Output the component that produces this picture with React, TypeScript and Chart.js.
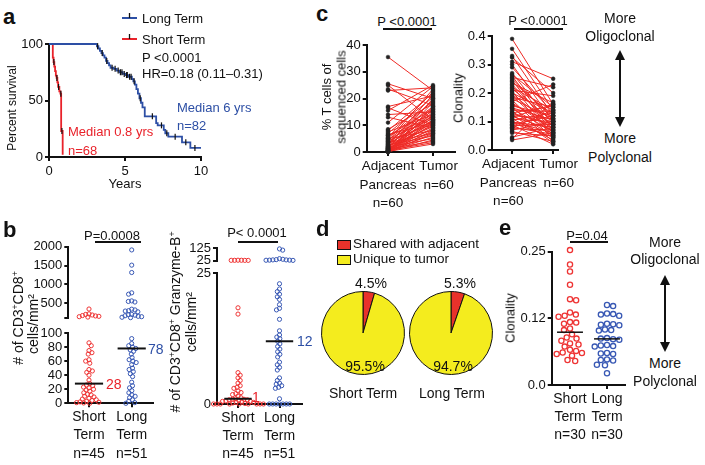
import React, { useEffect, useRef } from "react";
import { Chart, registerables } from "chart.js";

Chart.register(...registerables);
const FONT = "'Liberation Sans', Arial, Helvetica, sans-serif";
Chart.defaults.font.family = FONT;
Chart.defaults.font.size = 13;
Chart.defaults.color = "#111";

const INK = "#111";
const RED = "#e9222a";
const BLUE = "#2d4fa5";
const DOT_RED = "#ee3434";
const DOT_BLUE = "#3858b4";
const PIE_RED = "#e8322b";
const PIE_YELLOW = "#f4ec1e";

// ---------------- panel a : survival ----------------
const yearTicks = [0, 5, 10];
const survivalTicks = [0, 50, 100];
const longTermYears = [0, 3.15, 3.25, 3.35, 3.45, 3.55, 3.65, 3.75, 3.85, 3.95, 4.05, 4.25, 4.45, 4.65, 4.85, 5.05, 5.25, 5.45, 5.55, 5.65, 5.75, 5.85, 5.95, 6.05, 6.15, 6.3, 7.05, 7.15, 7.55, 7.65, 7.85, 8.75, 9.3, 10];
const longTermSurvival = [100, 98, 96, 94, 92, 90, 88, 85, 83, 81, 79, 78, 76.5, 75, 73.5, 72.5, 71, 69, 67, 64, 60, 56, 52, 48, 44, 36, 30, 28, 24, 21, 18, 13, 8, 8];
const longCensorYears = [3.2, 3.5, 3.8, 4.15, 4.35, 4.55, 4.7, 4.8, 4.95, 5.1, 5.15, 5.3, 5.4, 5.6, 6.0, 6.8, 7.4, 7.75, 8.3, 9.0, 9.6];
const longCensorSurvival = [98, 92, 85, 79, 78, 76.5, 75, 75, 73.5, 72.5, 72.5, 71, 71, 67, 52, 36, 28, 21, 18, 13, 8];
const shortTermYears = [0, 0.25, 0.3, 0.35, 0.4, 0.45, 0.5, 0.55, 0.6, 0.68, 0.75, 0.8, 0.9];
const shortTermSurvival = [100, 88, 84, 80, 76, 72, 70, 66, 62, 58, 56, 23, 2];
const shortCensorYears = [0.32, 0.52, 0.63, 0.78, 0.85];
const shortCensorSurvival = [84, 70, 62, 56, 23];

// ---------------- panel c : paired ----------------
const pairLabels = [["Adjacent", "Pancreas", "n=60"], ["Tumor", "n=60"]];
const tcellTicks = [0, 10, 20, 30, 40];
const clonTicks = [0, 0.1, 0.2, 0.3, 0.4];
const clonTickLabels = ["0.0", "0.1", "0.2", "0.3", "0.4"];
const adjacentTcell = [35.5, 25.5, 25, 23.5, 23, 17, 16.5, 15.5, 14, 13, 11, 8.5, 8, 7.5, 7, 6.5, 6.2, 6, 5.5, 5.2, 5, 4.8, 4.5, 4.2, 4, 3.8, 3.5, 3.3, 3, 2.8, 2.6, 2.4, 2.2, 2, 1.9, 1.8, 1.6, 1.5, 1.4, 1.3, 1.2, 1.1, 1, 0.9, 0.8, 0.7, 0.6, 0.5, 0.5, 0.4, 0.4, 0.3, 0.3, 0.2, 0.2, 0.2, 0.1, 0.1, 0.1, 0.05];
const tumorTcell = [23, 20, 12, 17.5, 24, 21, 10, 25, 15, 9, 24.5, 18, 22, 14, 20.5, 11, 13, 16, 22.5, 19, 8, 12.5, 17, 10.5, 23.5, 15.5, 7, 11.5, 19.5, 13.5, 6, 21.5, 9.5, 16.5, 12, 5, 14.5, 18.5, 8.5, 10, 20, 4, 11, 15, 7.5, 13, 3.5, 9, 17, 6.5, 12, 5.5, 14, 10.5, 3, 8, 16, 11.5, 4.5, 7];
const adjacentClonality = [0.39, 0.355, 0.33, 0.325, 0.31, 0.3, 0.29, 0.27, 0.265, 0.26, 0.255, 0.25, 0.245, 0.24, 0.235, 0.23, 0.225, 0.22, 0.215, 0.21, 0.205, 0.2, 0.195, 0.19, 0.185, 0.18, 0.175, 0.17, 0.165, 0.16, 0.155, 0.15, 0.148, 0.145, 0.14, 0.135, 0.13, 0.128, 0.125, 0.12, 0.118, 0.115, 0.11, 0.108, 0.105, 0.1, 0.098, 0.095, 0.09, 0.088, 0.085, 0.08, 0.078, 0.075, 0.07, 0.065, 0.06, 0.045, 0.04, 0.035];
const tumorClonality = [0.16, 0.14, 0.12, 0.2, 0.25, 0.1, 0.13, 0.09, 0.15, 0.07, 0.22, 0.11, 0.06, 0.12, 0.165, 0.08, 0.05, 0.14, 0.1, 0.19, 0.045, 0.13, 0.085, 0.06, 0.15, 0.11, 0.04, 0.23, 0.075, 0.095, 0.12, 0.03, 0.105, 0.065, 0.135, 0.05, 0.155, 0.09, 0.025, 0.11, 0.07, 0.16, 0.035, 0.1, 0.13, 0.06, 0.08, 0.045, 0.12, 0.02, 0.09, 0.055, 0.14, 0.07, 0.1, 0.03, 0.05, 0.08, 0.17, 0.06];

// ---------------- panel b : CD8 densities ----------------
const groupLabels45 = [["Short", "Term", "n=45"], ["Long", "Term", "n=51"]];
const cd8TopTicks = [100, 500, 1000, 1500, 2000];
const cd8TopLabels = ["", "500", "1000", "1500", "2000"];
const cd8LowTicks = [0, 20, 40, 60, 80, 100];
const cd8ShortHigh = [344, 215, 200, 185, 170, 160, 150, 140, 130];
const cd8ShortLow = [86, 82, 75, 72, 70, 62, 60, 57, 48, 46, 44, 40, 33, 28, 26, 25, 23, 22, 20, 19, 17, 15, 13, 12, 10, 9, 7, 6, 5, 4, 3, 2, 1.5, 1, 0.5, 0];
const cd8LongHigh = [1914, 1510, 1314, 774, 738, 560, 545, 530, 340, 320, 300, 290, 270, 200, 190, 180, 165, 150, 140, 125, 115];
const cd8LongLow = [92, 85, 82, 80, 78, 76, 74, 70, 65, 62, 60, 58, 55, 50, 48, 45, 42, 38, 30, 25, 22, 18, 15, 12, 10, 8, 5, 3, 1, 0];
const cd8Medians = [28, 78];

const gzbTopTicks = [25, 125];
const gzbLowTicks = [0, 25];
const gzbShortHigh = [26, 26.5, 27, 26, 27.5, 26.5];
const gzbShortLow = [18.4, 17.2, 6, 5.5, 5, 4.5, 4, 3.5, 3.2, 3, 2.5, 2.2, 2, 1.8, 1.5, 1.2, 1, 0.9, 0.9, 0.8, 0.8, 0.7, 0.6, 0.5, 0.5, 0.4, 0.3, 0.3, 0.2, 0.1, 0, 0, 0, 0, 0, 0, 0, 0, 0];
const gzbLongHigh = [120, 110, 40, 35, 32, 30, 30, 28, 28, 27, 26];
const gzbLongLow = [23, 22, 21.5, 21, 20.5, 20, 19, 18.3, 18, 16.2, 14, 13.2, 12.8, 12.5, 12, 11.5, 11, 10.5, 10, 9.5, 9, 8, 7.5, 7, 6.5, 5, 4.5, 4, 3.8, 3.5, 3.2, 3, 1, 0, 0, 0, 0, 0, 0, 0];
const gzbMedians = [1, 12];

// ---------------- panel d : pies ----------------
const pieShort = [4.5, 95.5];
const pieLong = [5.3, 94.7];

// ---------------- panel e : clonality ----------------
const groupLabels30 = [["Short", "Term", "n=30"], ["Long", "Term", "n=30"]];
const eTicks = [0, 0.125, 0.25];
const eTickLabels = ["0.0", "0.12", "0.25"];
const eShort = [0.253, 0.226, 0.213, 0.188, 0.161, 0.159, 0.136, 0.132, 0.13, 0.128, 0.118, 0.117, 0.115, 0.106, 0.103, 0.095, 0.089, 0.087, 0.083, 0.078, 0.076, 0.072, 0.066, 0.064, 0.061, 0.06, 0.058, 0.055, 0.047, 0.045];
const eLong = [0.15, 0.148, 0.134, 0.133, 0.132, 0.13, 0.115, 0.114, 0.113, 0.112, 0.104, 0.103, 0.102, 0.088, 0.087, 0.086, 0.085, 0.075, 0.074, 0.073, 0.072, 0.06, 0.059, 0.058, 0.048, 0.047, 0.046, 0.038, 0.037, 0.022];
const eMedians = [0.099, 0.0865];

// ---------------- layout helpers ----------------
type Box = { L: number; T: number; W: number; H: number };
type Area = { l: number; t: number; r: number; b: number };

function frame(box: Box, area: Area, xVisible = true) {
  return {
    padding: {
      left: 0,
      top: area.t - box.T,
      right: box.L + box.W - area.r,
      bottom: xVisible ? 0 : box.T + box.H - area.b,
    },
    yFit: (s: any) => { s.width = area.l - box.L; },
    xFit: (s: any) => { s.height = box.T + box.H - area.b; },
  };
}
function span(area: Area, p0: number, p1: number) {
  const u = p1 - p0;
  return { min: (area.l - p0) / u, max: (area.r - p0) / u };
}
// nudge multi-line category labels sideways with spaces (lead>0 shifts right, trail>0 shifts left)
function nudge(lines: string[], lead: number, trail: number) {
  return lines.map((s) => " ".repeat(lead) + s + " ".repeat(trail));
}

const GRID = { display: true, drawOnChartArea: false, drawTicks: true, tickLength: 4, color: INK, lineWidth: 2 };
const BORDER = { display: true, color: INK, width: 2 };

function yAxis(min: number, max: number, ticks: number[], labels: string[], f: any) {
  return {
    type: "linear", position: "left", min, max,
    afterBuildTicks: (s: any) => { s.ticks = ticks.map((v) => ({ value: v })); },
    afterFit: f.yFit,
    grid: GRID, border: BORDER,
    ticks: { autoSkip: false, padding: 2, color: INK, font: { size: 13 }, callback: (_v: any, i: number) => labels[i] },
  };
}
function xAxis(min: number, max: number, ticks: number[], labels: any[], f: any, size = 13, lh = 1.2, pad = 2) {
  return {
    type: "linear", position: "bottom", min, max,
    afterBuildTicks: (s: any) => { s.ticks = ticks.map((v) => ({ value: v })); },
    afterFit: f.xFit,
    grid: GRID, border: BORDER,
    ticks: { autoSkip: false, maxRotation: 0, padding: pad, color: INK, font: { size, lineHeight: lh }, callback: (_v: any, i: number) => labels[i] },
  };
}
function hiddenX(min: number, max: number) {
  return { type: "linear", display: false, min, max };
}
function baseOptions(f: any, scales: any) {
  return {
    responsive: false, animation: false, events: [],
    layout: { padding: f.padding, autoPadding: false },
    plugins: { legend: { display: false }, tooltip: { enabled: false } },
    scales,
  };
}
const pts = (xs: number[], ys: number[]) => xs.map((x, i) => ({ x, y: ys[i] }));
function pairData(a: number[], t: number[]) {
  const out: any[] = [];
  a.forEach((v, i) => { out.push({ x: 0, y: v }, { x: 1, y: t[i] }, { x: 0.5, y: null }); });
  return out;
}
function dots(values: number[], center: number, color: string, r: number, bw: number) {
  return {
    data: values.map((v) => ({ x: center, y: v })),
    pointStyle: "circle", pointRadius: r, pointBorderWidth: bw,
    pointBorderColor: color, pointBackgroundColor: "rgba(255,255,255,0)", clip: false,
  };
}
function medianLine(center: number, value: number, half: number, w: number) {
  return {
    data: [{ x: center - half, y: value }, { x: center + half, y: value }],
    showLine: true, borderColor: INK, borderWidth: w, pointRadius: 0, clip: false,
  };
}

type Group = { ds: number; center: number; values: number[]; diam: number };
function swarm(chart: any, groups: Group[]) {
  const xs = chart.scales.x, ys = chart.scales.y;
  const ppu = xs.getPixelForValue(1) - xs.getPixelForValue(0);
  groups.forEach((g) => {
    const order = g.values.map((_v, i) => i).sort((a, b) => g.values[b] - g.values[a]);
    const placed: { px: number; py: number }[] = [];
    const xOut = g.values.map(() => g.center);
    let flip = 1;
    order.forEach((i) => {
      const py = ys.getPixelForValue(g.values[i]);
      const bans: number[][] = [];
      placed.forEach((p) => {
        const dy = Math.abs(p.py - py);
        if (dy < g.diam) {
          const dx = Math.sqrt(g.diam * g.diam - dy * dy);
          bans.push([p.px - dx, p.px + dx]);
        }
      });
      const cands = [0];
      bans.forEach(([a, b]) => cands.push(a, b));
      cands.sort((a, b) => Math.abs(a) - Math.abs(b) || (a - b) * flip);
      let px = 0;
      for (const c of cands) {
        if (bans.every(([a, b]) => c <= a + 1e-6 || c >= b - 1e-6)) { px = c; break; }
      }
      flip = -flip;
      placed.push({ px, py });
      xOut[i] = g.center + px / ppu;
    });
    chart.data.datasets[g.ds].data = g.values.map((v, i) => ({ x: xOut[i], y: v }));
  });
  chart.update("none");
}

// ---------------- chart geometry ----------------
const A_BOX: Box = { L: 10, T: 30, W: 212, H: 150 };
const A_AREA: Area = { l: 49, t: 44, r: 201, b: 157 };
const C1_BOX: Box = { L: 335, T: 30, W: 130, H: 190 };
const C1_AREA: Area = { l: 366.7, t: 45, r: 455, b: 152 };
const C2_BOX: Box = { L: 465, T: 20, W: 115, H: 200 };
const C2_AREA: Area = { l: 491.7, t: 36, r: 568, b: 150 };
const BLT_BOX: Box = { L: 30, T: 236, W: 135, H: 92 };
const BLT_AREA: Area = { l: 68.3, t: 246.7, r: 153.3, b: 320.5 };
const BLB_BOX: Box = { L: 30, T: 322, W: 135, H: 140 };
const BLB_AREA: Area = { l: 68.3, t: 333, r: 153.3, b: 403.3 };
const BRT_BOX: Box = { L: 180, T: 238, W: 135, H: 34 };
const BRT_AREA: Area = { l: 217, t: 248.3, r: 301.7, b: 260.5 };
const BRB_BOX: Box = { L: 180, T: 263, W: 135, H: 199 };
const BRB_AREA: Area = { l: 217, t: 273.3, r: 301.7, b: 404 };
const E_BOX: Box = { L: 515, T: 240, W: 120, H: 222 };
const E_AREA: Area = { l: 551.7, t: 251.7, r: 625, b: 385 };
const PIE1_BOX: Box = { L: 318, T: 288, W: 90, H: 90 };
const PIE2_BOX: Box = { L: 406, T: 288, W: 90, H: 90 };

// ---------------- chart factories ----------------
function makeKM(c: HTMLCanvasElement) {
  const f = frame(A_BOX, A_AREA);
  const censor = (xs: number[], ys: number[]) => ({
    data: pts(xs, ys), showLine: false, pointStyle: "line", rotation: 90, pointRadius: 3,
    pointBorderColor: INK, pointBorderWidth: 1.2, clip: false,
  });
  return new Chart(c, {
    type: "line",
    data: {
      datasets: [
        censor(longCensorYears, longCensorSurvival),
        censor(shortCensorYears, shortCensorSurvival),
        { data: pts(longTermYears, longTermSurvival), stepped: true, borderColor: BLUE, borderWidth: 1.8, pointRadius: 0, clip: false },
        { data: pts(shortTermYears, shortTermSurvival), stepped: true, borderColor: RED, borderWidth: 1.8, pointRadius: 0, clip: false },
      ],
    } as any,
    options: baseOptions(f, {
      x: xAxis(0, 10, yearTicks, yearTicks.map(String), f, 13, 1.2, 3),
      y: yAxis(0, 100, survivalTicks, survivalTicks.map(String), f),
    }) as any,
  });
}

function makePaired(box: Box, area: Area, p0: number, p1: number, a: number[], t: number[], ymax: number,
  ticks: number[], labels: string[], shift: number[][]) {
  return (c: HTMLCanvasElement) => {
    const f = frame(box, area);
    const r = span(area, p0, p1);
    const xl = pairLabels.map((lines, i) => nudge(lines, shift[i][0], shift[i][1]));
    return new Chart(c, {
      type: "line",
      data: {
        datasets: [{
          data: pairData(a, t), borderColor: "#ee2a25", borderWidth: 1, spanGaps: false,
          pointRadius: 1.9, pointBackgroundColor: "#222", pointBorderColor: "#222", pointBorderWidth: 0.5, clip: false,
        }],
      } as any,
      options: baseOptions(f, {
        x: xAxis(r.min, r.max, [0, 1], xl, f, 13.5, 1.38, 1),
        y: yAxis(0, ymax, ticks, labels, f),
      }) as any,
    });
  };
}

function makeDots(opts: {
  box: Box; area: Area; p0: number; p1: number; xVisible: boolean; xLabels?: any[];
  ymin: number; ymax: number; ticks: number[]; tickLabels: string[];
  short: number[]; long: number[]; medians?: number[]; half?: number; mw?: number;
  r: number; bw: number; diam: number;
}) {
  return (c: HTMLCanvasElement) => {
    const f = frame(opts.box, opts.area, opts.xVisible);
    const rg = span(opts.area, opts.p0, opts.p1);
    const ds: any[] = [];
    if (opts.medians) {
      ds.push(medianLine(0, opts.medians[0], opts.half || 0.33, opts.mw || 2));
      ds.push(medianLine(1, opts.medians[1], opts.half || 0.33, opts.mw || 2));
    }
    const first = ds.length;
    ds.push(dots(opts.short, 0, DOT_RED, opts.r, opts.bw));
    ds.push(dots(opts.long, 1, DOT_BLUE, opts.r, opts.bw));
    const chart = new Chart(c, {
      type: "scatter",
      data: { datasets: ds } as any,
      options: baseOptions(f, {
        x: opts.xVisible ? xAxis(rg.min, rg.max, [0, 1], opts.xLabels || [], f, 14, 1.3, 1) : hiddenX(rg.min, rg.max),
        y: yAxis(opts.ymin, opts.ymax, opts.ticks, opts.tickLabels, f),
      }) as any,
    });
    swarm(chart, [
      { ds: first, center: 0, values: opts.short, diam: opts.diam },
      { ds: first + 1, center: 1, values: opts.long, diam: opts.diam },
    ]);
    return chart;
  };
}

function makePie(values: number[]) {
  return (c: HTMLCanvasElement) =>
    new Chart(c, {
      type: "pie",
      data: { datasets: [{ data: values, backgroundColor: [PIE_RED, PIE_YELLOW], borderColor: INK, borderWidth: 1 }] },
      options: {
        responsive: false, animation: false, events: [], radius: 41.5,
        layout: { padding: 0 },
        plugins: { legend: { display: false }, tooltip: { enabled: false } },
      } as any,
    });
}

// ---------------- react bits ----------------
function Cv({ box, make }: { box: Box; make: (c: HTMLCanvasElement) => any }) {
  const ref = useRef<HTMLCanvasElement>(null);
  useEffect(() => {
    const chart = make(ref.current as HTMLCanvasElement);
    return () => chart.destroy();
  }, []);
  return (
    <canvas ref={ref} width={box.W} height={box.H}
      style={{ position: "absolute", left: box.L, top: box.T, width: box.W, height: box.H }} />
  );
}

const Tx = ({ x, y, s = 13, c = INK, a = "c", b = false, r = false, children }: any) => {
  const tx = a === "c" ? "-50%" : a === "r" ? "-100%" : "0";
  return (
    <div style={{
      position: "absolute", left: x, top: y, fontSize: s, lineHeight: 1, color: c,
      fontWeight: b ? 700 : 400, whiteSpace: "nowrap",
      transform: r ? "translate(-50%,-50%) rotate(-90deg)" : `translate(${tx},-50%)`,
    }}>{children}</div>
  );
};
const Sup = ({ children }: any) => (
  <span style={{ fontSize: "0.62em", position: "relative", top: "-0.55em" }}>{children}</span>
);
const HLine = ({ x1, x2, y }: any) => (
  <div style={{ position: "absolute", left: x1, top: y - 1, width: x2 - x1, height: 2, background: INK }} />
);
const VArrow = ({ x, y1, y2 }: any) => {
  const h = y2 - y1;
  return (
    <svg width={14} height={h} style={{ position: "absolute", left: x - 7, top: y1 }}>
      <line x1={7} y1={8} x2={7} y2={h - 8} stroke={INK} strokeWidth={2} />
      <polygon points={`7,0 2,10 12,10`} fill={INK} />
      <polygon points={`7,${h} 2,${h - 10} 12,${h - 10}`} fill={INK} />
    </svg>
  );
};
const KMKey = ({ x, y, color }: any) => (
  <svg width={16} height={10} style={{ position: "absolute", left: x, top: y - 7 }}>
    <line x1={0} y1={7} x2={15} y2={7} stroke={color} strokeWidth={2} />
    <line x1={7.5} y1={7} x2={7.5} y2={2} stroke={INK} strokeWidth={1.3} />
  </svg>
);
const Swatch = ({ x, y, color }: any) => (
  <div style={{ position: "absolute", left: x, top: y, width: 12, height: 8, background: color, border: `1px solid ${INK}` }} />
);

export default function App() {
  return (
    <div style={{
      position: "fixed", left: 0, top: 0, width: 705, height: 465, background: "#fff",
      overflow: "hidden", fontFamily: FONT, color: INK,
    }}>
      {/* panel a */}
      <Cv box={A_BOX} make={makeKM} />
      <Tx x={3} y={17} s={22} b a="l">a</Tx>
      <Tx x={12} y={108} s={12} r>Percent survival</Tx>
      <Tx x={125} y={183}>Years</Tx>
      <KMKey x={122} y={18} color={BLUE} />
      <KMKey x={122} y={39} color={RED} />
      <Tx x={142} y={18} a="l">Long Term</Tx>
      <Tx x={142} y={39} a="l">Short Term</Tx>
      <Tx x={142} y={57} a="l">P &lt;0.0001</Tx>
      <Tx x={142} y={73} a="l">HR=0.18 (0.11–0.31)</Tx>
      <Tx x={177} y={107} a="l" c={BLUE}>Median 6 yrs</Tx>
      <Tx x={177} y={125} a="l" c={BLUE}>n=82</Tx>
      <Tx x={68} y={131} a="l" c={RED}>Median 0.8 yrs</Tx>
      <Tx x={68} y={150} a="l" c={RED}>n=68</Tx>

      {/* panel c */}
      <Cv box={C1_BOX} make={makePaired(C1_BOX, C1_AREA, 388, 433, adjacentTcell, tumorTcell, 40, tcellTicks,
        tcellTicks.map(String), [[0, 0], [3, 0]])} />
      <Cv box={C2_BOX} make={makePaired(C2_BOX, C2_AREA, 515, 562, adjacentClonality, tumorClonality, 0.4, clonTicks,
        clonTickLabels, [[0, 2], [3, 0]])} />
      <Tx x={316} y={14} s={22} b a="l">c</Tx>
      <Tx x={407} y={21}>P &lt;0.0001</Tx>
      <HLine x1={383} x2={432} y={29} />
      <Tx x={326} y={97} r>% T cells of</Tx>
      <Tx x={340.5} y={97} r>sequenced cells</Tx>
      <Tx x={538} y={20}>P &lt;0.0001</Tx>
      <HLine x1={514} x2={563} y={29} />
      <Tx x={458} y={98} r>Clonality</Tx>
      <Tx x={620} y={18} s={14}>More</Tx>
      <Tx x={620} y={36} s={14}>Oligoclonal</Tx>
      <VArrow x={620} y1={50} y2={127} />
      <Tx x={620} y={138} s={14}>More</Tx>
      <Tx x={620} y={157} s={14}>Polyclonal</Tx>

      {/* panel b */}
      <Cv box={BLT_BOX} make={makeDots({
        box: BLT_BOX, area: BLT_AREA, p0: 89, p1: 131.7, xVisible: false,
        ymin: 100, ymax: 2000, ticks: cd8TopTicks, tickLabels: cd8TopLabels,
        short: cd8ShortHigh, long: cd8LongHigh, r: 2.1, bw: 1, diam: 3.4,
      })} />
      <Cv box={BLB_BOX} make={makeDots({
        box: BLB_BOX, area: BLB_AREA, p0: 89, p1: 131.7, xVisible: true, xLabels: groupLabels45,
        ymin: 0, ymax: 100, ticks: cd8LowTicks, tickLabels: cd8LowTicks.map(String),
        short: cd8ShortLow, long: cd8LongLow, medians: cd8Medians, half: 0.33, mw: 2,
        r: 2.1, bw: 1, diam: 3.6,
      })} />
      <Cv box={BRT_BOX} make={makeDots({
        box: BRT_BOX, area: BRT_AREA, p0: 238, p1: 279.5, xVisible: false,
        ymin: 25, ymax: 125, ticks: gzbTopTicks, tickLabels: gzbTopTicks.map(String),
        short: gzbShortHigh, long: gzbLongHigh, r: 2.1, bw: 1, diam: 3.4,
      })} />
      <Cv box={BRB_BOX} make={makeDots({
        box: BRB_BOX, area: BRB_AREA, p0: 238, p1: 279.5, xVisible: true, xLabels: groupLabels45,
        ymin: 0, ymax: 25, ticks: gzbLowTicks, tickLabels: gzbLowTicks.map(String),
        short: gzbShortLow, long: gzbLongLow, medians: gzbMedians, half: 0.33, mw: 2,
        r: 2.1, bw: 1, diam: 3.4,
      })} />
      <Tx x={3} y={230} s={22} b a="l">b</Tx>
      <Tx x={112} y={235}>P=0.0008</Tx>
      <HLine x1={95} x2={141} y={242} />
      <Tx x={18} y={318} s={14} r>
        # of CD3<Sup>+</Sup>CD8<Sup>+</Sup>
      </Tx>
      <Tx x={33} y={324} s={14} r>cells/mm²</Tx>
      <Tx x={106} y={384} s={14} a="l" c={RED}>28</Tx>
      <Tx x={148} y={349} s={14} a="l" c={BLUE}>78</Tx>
      <Tx x={257} y={232}>P&lt; 0.0001</Tx>
      <HLine x1={238} x2={278} y={242} />
      <Tx x={175} y={322} s={14} r>
        # of CD3<Sup>+</Sup>CD8<Sup>+</Sup> Granzyme-B<Sup>+</Sup>
      </Tx>
      <Tx x={191} y={322} s={14} r>cells/mm²</Tx>
      <Tx x={252} y={397} s={14} a="l" c={RED}>1</Tx>
      <Tx x={297} y={341} s={14} a="l" c={BLUE}>12</Tx>

      {/* panel d */}
      <Cv box={PIE1_BOX} make={makePie(pieShort)} />
      <Cv box={PIE2_BOX} make={makePie(pieLong)} />
      <Tx x={316} y={229} s={22} b a="l">d</Tx>
      <Swatch x={337} y={240} color={PIE_RED} />
      <Swatch x={337} y={255} color={PIE_YELLOW} />
      <Tx x={353} y={244} s={13.5} a="l">Shared with adjacent</Tx>
      <Tx x={353} y={259} s={13.5} a="l">Unique to tumor</Tx>
      <Tx x={371} y={283} s={14}>4.5%</Tx>
      <Tx x={365} y={366} s={14}>95.5%</Tx>
      <Tx x={363} y={393} s={14}>Short Term</Tx>
      <Tx x={460} y={283} s={14}>5.3%</Tx>
      <Tx x={453} y={366} s={14}>94.7%</Tx>
      <Tx x={452} y={393} s={14}>Long Term</Tx>

      {/* panel e */}
      <Cv box={E_BOX} make={makeDots({
        box: E_BOX, area: E_AREA, p0: 570, p1: 607, xVisible: true, xLabels: groupLabels30,
        ymin: 0, ymax: 0.25, ticks: eTicks, tickLabels: eTickLabels,
        short: eShort, long: eLong, medians: eMedians, half: 0.35, mw: 1.5,
        r: 2.6, bw: 1.3, diam: 6.2,
      })} />
      <Tx x={499} y={228} s={22} b a="l">e</Tx>
      <Tx x={587} y={235}>P=0.04</Tx>
      <HLine x1={570} x2={608} y={242} />
      <Tx x={510} y={318} r>Clonality</Tx>
      <Tx x={665} y={242} s={14}>More</Tx>
      <Tx x={665} y={259} s={14}>Oligoclonal</Tx>
      <VArrow x={665} y1={275} y2={352} />
      <Tx x={665} y={363} s={14}>More</Tx>
      <Tx x={665} y={381} s={14}>Polyclonal</Tx>
    </div>
  );
}
